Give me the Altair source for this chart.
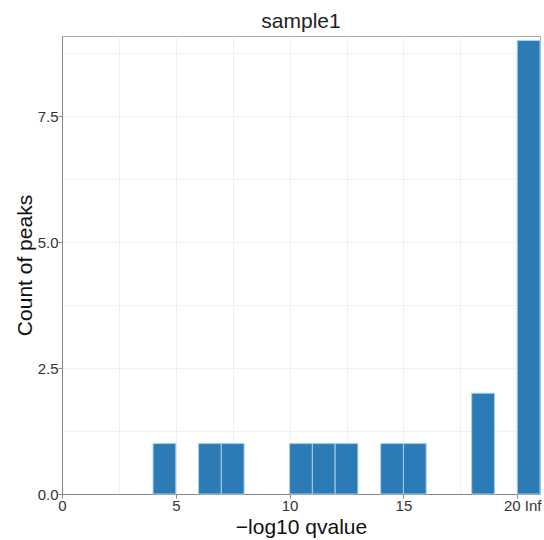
import altair as alt
import pandas as pd

bin_start = [4, 6, 7, 10, 11, 12, 14, 15, 18, 20]
bin_end = [5, 7, 8, 11, 12, 13, 15, 16, 19, 21]
counts = [1, 1, 1, 1, 1, 1, 1, 1, 2, 9]

df = pd.DataFrame({"start": bin_start, "end": bin_end, "count": counts})

FONT = "Liberation Sans"

x_vals = [0, 2.5, 5, 7.5, 10, 12.5, 15, 17.5, 20]
y_vals = [0, 1.25, 2.5, 3.75, 5, 6.25, 7.5, 8.75]

chart = alt.Chart(df).mark_bar(
    color="#2C7BB6", stroke="#A6D0EA", strokeWidth=1
).encode(
    x=alt.X(
        "start:Q",
        scale=alt.Scale(domain=[0, 21], nice=False, zero=False),
        axis=alt.Axis(
            values=x_vals,
            title="\u2212log10 qvalue",
            labelExpr="datum.value == 20 ? '20 Inf' : (datum.value % 5 == 0 ? datum.label : '')",
            labelOffset={"condition": {"test": "datum.value == 20", "value": 5}, "value": 0},
            tickOpacity={"condition": {"test": "datum.value % 5 == 0", "value": 1}, "value": 0},
            labelBound=False,
            labelFlush=False,
            titleBaseline="middle",
            titleY=33,
        ),
    ),
    x2="end:Q",
    y=alt.Y(
        "count:Q",
        scale=alt.Scale(domain=[0, 9.09], nice=False),
        axis=alt.Axis(
            values=y_vals,
            title="Count of peaks",
            labelExpr="datum.value % 2.5 == 0 ? format(datum.value, '.1f') : ''",
            tickOpacity={"condition": {"test": "datum.value % 2.5 == 0", "value": 1}, "value": 0},
            titleBaseline="middle",
            titleX=-37,
        ),
    ),
    y2=alt.datum(0),
).properties(
    width=478,
    height=458,
    title=alt.TitleParams("sample1", fontSize=21, font=FONT, fontWeight="normal",
                          color="#222222", offset=4),
    padding={"left": 62, "top": 36, "right": 4, "bottom": 46},
    autosize=alt.AutoSizeParams(type="none"),
).configure_view(
    stroke="#AAAAAA", strokeWidth=1
).configure_axis(
    labelFont=FONT, titleFont=FONT, labelFontSize=15, titleFontSize=21,
    titleFontWeight="normal", labelColor="#333333", titleColor="#111111",
    gridColor="#F0F0F0", gridWidth=1, domainColor="#888888", tickColor="#888888",
    tickSize=4, labelPadding=0,
)

chart.save("out.html", embed_options={"renderer": "svg", "actions": False})
